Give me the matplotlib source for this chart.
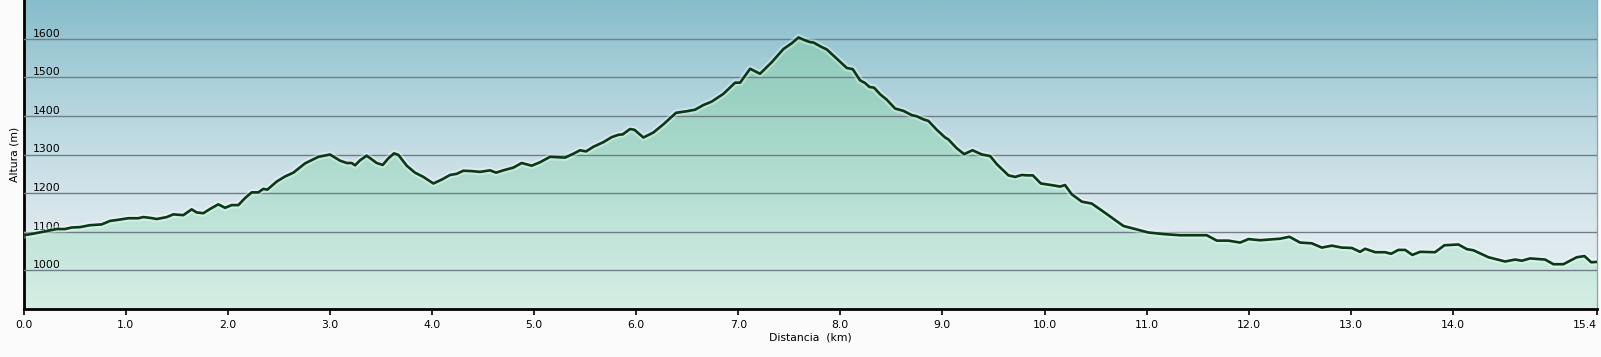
import numpy as np
import matplotlib
matplotlib.use('Agg')
import matplotlib.pyplot as plt
from matplotlib.colors import LinearSegmentedColormap

# elevation profile (km, m)
dist = [0.0, 0.096, 0.227, 0.325, 0.406, 0.472, 0.553, 0.651, 0.766, 0.847,
        0.929, 1.027, 1.124, 1.174, 1.239, 1.305, 1.403, 1.467, 1.565, 1.647,
        1.696, 1.761, 1.827, 1.908, 1.974, 2.039, 2.104, 2.169, 2.235, 2.300,
        2.349, 2.388, 2.48, 2.561, 2.643, 2.757, 2.888, 3.002, 3.10, 3.166,
        3.214, 3.247, 3.296, 3.361, 3.459, 3.518, 3.573, 3.629, 3.671, 3.753,
        3.834, 3.916, 4.014, 4.096, 4.177, 4.243, 4.308, 4.39, 4.471, 4.569,
        4.628, 4.699, 4.797, 4.879, 4.977, 5.059, 5.157, 5.304, 5.385, 5.451,
        5.509, 5.581, 5.679, 5.761, 5.826, 5.868, 5.940, 5.983, 6.071, 6.169,
        6.266, 6.391, 6.495, 6.577, 6.658, 6.74, 6.854, 6.969, 7.018, 7.116,
        7.213, 7.328, 7.442, 7.524, 7.59, 7.65, 7.703, 7.736, 7.818, 7.867,
        7.965, 8.063, 8.121, 8.193, 8.242, 8.284, 8.33, 8.389, 8.454, 8.536,
        8.617, 8.699, 8.748, 8.813, 8.862, 8.944, 9.026, 9.058, 9.14, 9.212,
        9.294, 9.386, 9.467, 9.532, 9.646, 9.711, 9.777, 9.826, 9.885, 9.963,
        10.087, 10.152, 10.2, 10.266, 10.364, 10.462, 10.576, 10.772, 10.886, 11.017,
        11.164, 11.327, 11.457, 11.588, 11.687, 11.80, 11.915, 11.997, 12.111, 12.209,
        12.307, 12.398, 12.502, 12.617, 12.715, 12.813, 12.911, 13.009, 13.09, 13.139,
        13.237, 13.335, 13.394, 13.465, 13.531, 13.602, 13.677, 13.824, 13.916, 14.053,
        14.135, 14.2, 14.347, 14.51, 14.608, 14.674, 14.755, 14.902, 14.983, 15.081,
        15.212, 15.287, 15.353, 15.41]
alt = [1091, 1095, 1102, 1107, 1107, 1111, 1112, 1117, 1119, 1128,
       1131, 1135, 1135, 1138, 1136, 1133, 1138, 1145, 1143, 1158,
       1150, 1148, 1159, 1171, 1162, 1169, 1169, 1187, 1202, 1202,
       1211, 1209, 1230, 1243, 1253, 1277, 1294, 1300, 1284, 1278,
       1278, 1272, 1285, 1297, 1278, 1273, 1290, 1303, 1299, 1271,
       1253, 1242, 1225, 1235, 1247, 1250, 1258, 1257, 1255, 1259,
       1253, 1259, 1266, 1278, 1271, 1280, 1294, 1292, 1302, 1311,
       1308, 1320, 1332, 1345, 1351, 1352, 1366, 1364, 1344, 1357,
       1378, 1408, 1412, 1416, 1428, 1437, 1457, 1486, 1486, 1522,
       1509, 1539, 1573, 1588, 1603, 1596, 1591, 1590, 1578, 1572,
       1548, 1524, 1521, 1492, 1485, 1475, 1473, 1456, 1442, 1419,
       1413, 1402, 1399, 1391, 1387, 1364, 1344, 1339, 1316, 1301,
       1311, 1300, 1296, 1275, 1246, 1242, 1247, 1246, 1246, 1225,
       1220, 1217, 1221, 1197, 1178, 1173, 1152, 1115, 1107, 1098,
       1094, 1091, 1091, 1091, 1077, 1077, 1072, 1081, 1078, 1080,
       1082, 1087, 1072, 1070, 1059, 1064, 1059, 1058, 1048, 1056,
       1047, 1047, 1043, 1053, 1053, 1040, 1048, 1047, 1065, 1067,
       1055, 1052, 1034, 1023, 1028, 1025, 1031, 1028, 1016, 1016,
       1034, 1037, 1021, 1022]

xticks = [0, 1, 2, 3, 4, 5, 6, 7, 8, 9, 10, 11, 12, 13, 14, 15.41]
xlabels = ['0.0', '1.0', '2.0', '3.0', '4.0', '5.0', '6.0', '7.0', '8.0', '9.0',
           '10.0', '11.0', '12.0', '13.0', '14.0', '15.4']
yticks = [1000, 1100, 1200, 1300, 1400, 1500, 1600]

xmin, xmax = 0, 15.41
ymin, ymax = 900, 1700

fig = plt.figure(figsize=(16.01, 3.57), dpi=100, facecolor='#fbfbfb')
ax = fig.add_axes([23.5/1601, 1-309/357, (1597-23.5)/1601, 309/357])

# sky gradient behind
sky = LinearSegmentedColormap.from_list('sky', ['#e6eff2', '#dde9ee', '#c6dde4', '#a9cfd9', '#87bdca'])
grad = np.linspace(0, 1, 256).reshape(-1, 1)
ax.imshow(grad, cmap=sky, origin='lower', extent=[xmin, xmax, ymin, ymax],
          aspect='auto', zorder=0)

# green fill under the profile
fill = ax.fill_between(dist, alt, ymin, color='none', zorder=1)
green = LinearSegmentedColormap.from_list('grn', ['#d6eee4', '#b9e1d5', '#9dd2c3', '#88c6b8'])
img = ax.imshow(grad, cmap=green, origin='lower', extent=[xmin, xmax, ymin, ymax],
                aspect='auto', zorder=1)
img.set_clip_path(fill.get_paths()[0], transform=ax.transData)

ax.plot(dist, alt, color='white', lw=5, alpha=0.35, zorder=2.8, solid_joinstyle='round')
ax.plot(dist, alt, color='#083a18', lw=1.9, zorder=3, solid_joinstyle='round')

ax.set_xlim(xmin, xmax)
ax.set_ylim(ymin, ymax)
ax.set_axisbelow(False)
ax.set_yticks(yticks)
ax.set_yticklabels([str(v) for v in yticks])
ax.grid(axis='y', color='#6f7f85', lw=1.0)
ax.tick_params(axis='y', length=0, pad=-7, labelsize=7.8)
for tl in ax.get_yticklabels():
    tl.set_horizontalalignment('left')
    tl.set_verticalalignment('bottom')
ax.set_xticks(xticks)
ax.set_xticklabels(xlabels)
ax.tick_params(axis='x', length=4, width=1.2, pad=4, labelsize=7.8, direction='out')
ax.get_xticklabels()[-1].set_horizontalalignment('right')

ax.spines['top'].set_visible(False)
ax.spines['left'].set_linewidth(2)
ax.spines['bottom'].set_linewidth(2)
ax.spines['right'].set_color('#9aa5a8')
ax.spines['right'].set_linewidth(1)

ax.set_ylabel('Altura (m)', fontsize=7.8, labelpad=3)
ax.set_xlabel('Distancia  (km)', fontsize=7.8, labelpad=2)

plt.savefig('out.png', dpi=100, facecolor=fig.get_facecolor())
